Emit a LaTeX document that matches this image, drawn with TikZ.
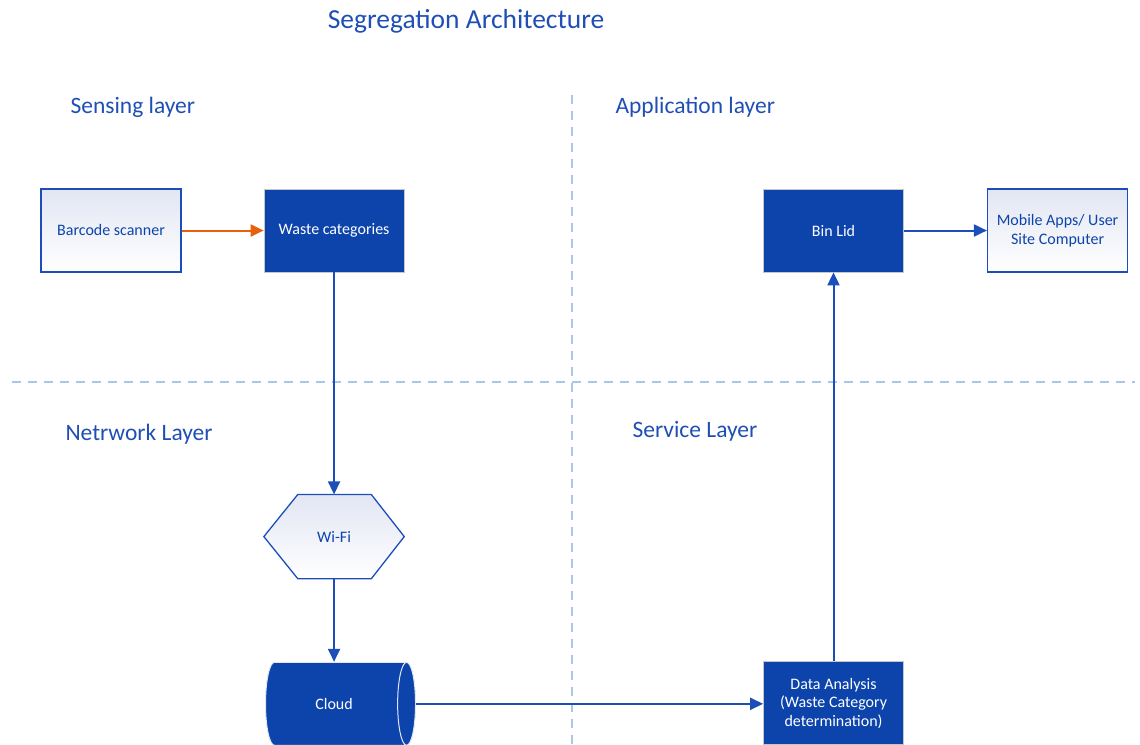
\documentclass[tikz,border=0pt]{standalone}
\usepackage{fontspec}
\setmainfont{Carlito}
\usetikzlibrary{positioning, shapes.geometric, arrows.meta, calc, backgrounds}

\definecolor{dkblue}{RGB}{12,68,172}
\definecolor{txtblue}{RGB}{31,79,181}
\definecolor{lnblue}{RGB}{28,78,186}
\definecolor{orng}{RGB}{232,96,14}
\definecolor{sepblue}{RGB}{170,198,234}
\definecolor{palebox}{RGB}{226,230,243}

\begin{document}
\begin{tikzpicture}[x=1pt, y=-1pt, node distance=82pt]
        \tikzstyle{boxtext}=[font=\fontsize{16}{18.5}\selectfont, align=center]
        \tikzstyle{lightbox}=[boxtext, draw=lnblue, line width=1.3pt, rectangle, minimum width=140pt, minimum height=83pt, top color=palebox, bottom color=white, text=dkblue];
        \tikzstyle{darkbox}=[boxtext, draw=gray!45, line width=0.8pt, rectangle, fill=dkblue, minimum width=140pt, minimum height=83pt, text=white];
        \tikzstyle{layer}=[anchor=west, text=txtblue, font=\fontsize{23.5}{28}\selectfont];
        \tikzstyle{sep}=[draw=sepblue, line width=2pt, dash pattern=on 9pt off 7pt];
        \tikzstyle{flow}=[draw=lnblue, line width=2pt, -{Triangle[length=13pt, width=12pt]}];
        \useasboundingbox (0,0) rectangle (1140,744);

        % title and layer names
        \node[text=txtblue, font=\fontsize{27.5}{32}\selectfont] (title) at (466,21) {Segregation Architecture};
        \node[layer] (sensing) at (67,107) {Sensing layer};
        \node[layer] (application) at (612,107) {Application layer};
        \node[layer] (network) at (62,434) {Netrwork Layer};
        \node[layer] (service) at (629,431) {Service Layer};

        % quadrant separators
        \coordinate (vtop) at (572,95);
        \coordinate (vbot) at (572,744);
        \coordinate (hleft) at (12,382);
        \coordinate (hright) at (1135,382);
        \draw[sep] (vtop) -- (vbot);
        \draw[sep] (hleft) -- (hright);

        % blocks
        \node[lightbox] (barcode) at (111,230.5) {Barcode scanner};
        \node[darkbox, right=82pt of barcode] (waste) {Waste categories};
        \node[boxtext, minimum width=140pt, minimum height=84pt, text=dkblue, below=222pt of waste] (wifi) {Wi-Fi};
        \node[boxtext, cylinder, aspect=1, minimum width=83pt, minimum height=150pt, draw=palebox, line width=1pt,
              cylinder uses custom fill, cylinder body fill=dkblue, cylinder end fill=dkblue, text=white,
              below=83pt of wifi] (cloud) {Cloud};
        \node[darkbox] (binlid) at (833.5,230.5) {Bin Lid};
        \node[lightbox, right=83pt of binlid] (mobile) {Mobile Apps/ User\\Site Computer};
        \node[darkbox, below=389pt of binlid] (analysis) {Data Analysis\\(Waste Category\\determination)};

        \begin{scope}[on background layer]
          \draw[draw=lnblue, line width=1.3pt, top color=palebox, bottom color=white]
            (wifi.west) -- ($(wifi.north west)+(34,0)$) -- ($(wifi.north east)+(-33,0)$) -- (wifi.east)
            -- ($(wifi.south east)+(-33,0)$) -- ($(wifi.south west)+(34,0)$) -- cycle;
        \end{scope}

        \path
        (waste) edge[flow] (wifi)
        (wifi.south) edge[flow] (cloud.north)
        (cloud.east) edge[flow] (analysis.west |- cloud.east)
        (analysis) edge[flow] (binlid)
        (binlid) edge[flow] (mobile)
        (barcode) edge[flow, draw=orng] (waste);
      \end{tikzpicture}
\end{document}
